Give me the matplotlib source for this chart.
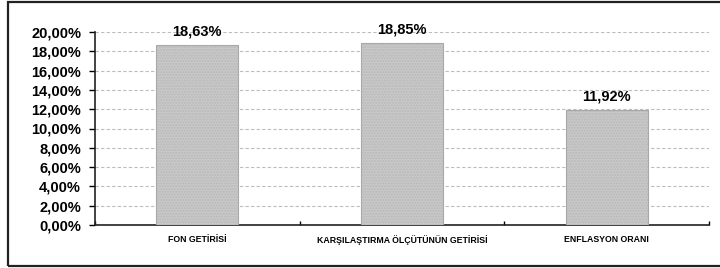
import matplotlib.pyplot as plt
from matplotlib.patches import Rectangle

categories = ["FON GETİRİSİ", "KARŞILAŞTIRMA ÖLÇÜTÜNÜN GETİRİSİ", "ENFLASYON ORANI"]
values = [18.63, 18.85, 11.92]
value_labels = ["18,63%", "18,85%", "11,92%"]
yticks = [0, 2, 4, 6, 8, 10, 12, 14, 16, 18, 20]
ytick_labels = ["%d,00%%" % t for t in yticks]

plt.rcParams["font.family"] = ["Liberation Sans", "DejaVu Sans"]

fig = plt.figure(figsize=(7.2, 2.68), dpi=100)
ax = fig.add_axes([95 / 720, 1 - 225 / 268, (709 - 95) / 720, (225 - 32) / 268])

# outer frame (chart area border), right side runs off the picture
fig.patches.append(Rectangle((8 / 720, 2 / 268), 1.2, 1 - 3.5 / 268, transform=fig.transFigure,
                             fill=False, edgecolor="#222222", linewidth=1.6))

x = range(len(categories))
bars = ax.bar(x, values, width=0.4, color="#c9c9c9", edgecolor="#a8a8a8", linewidth=0.8,
              hatch="......", zorder=3)
for b in bars:
    b._hatch_color = (0.72, 0.72, 0.72, 1.0)

for i, (v, lab) in enumerate(zip(values, value_labels)):
    ax.annotate(lab, (i, v), xytext=(0, 5), textcoords="offset points", ha="center", va="bottom",
                fontsize=10.5, fontweight="bold")

ax.set_xlim(-0.5, 2.5)
ax.set_ylim(0, 20)
ax.set_yticks(yticks)
ax.set_yticklabels(ytick_labels, fontsize=10.5, fontweight="bold")
ax.set_xticks([-0.5, 0.5, 1.5, 2.5], minor=False)
ax.set_xticklabels([])
ax.tick_params(axis="x", direction="in", length=3, width=1)
ax.tick_params(axis="y", direction="out", length=4, width=1, pad=6)
for i, c in enumerate(categories):
    ax.text(i, -1.0, c, ha="center", va="top", fontsize=6.3, fontweight="bold")

ax.grid(axis="y", linestyle=(0, (3, 2)), color="#bdbdbd", linewidth=0.8, zorder=0)
ax.spines["top"].set_visible(False)
ax.spines["right"].set_visible(False)
ax.spines["left"].set_linewidth(1.2)
ax.spines["bottom"].set_linewidth(1.2)
ax.spines["left"].set_color("#222222")
ax.spines["bottom"].set_color("#222222")

fig.savefig("out.png", dpi=100)
